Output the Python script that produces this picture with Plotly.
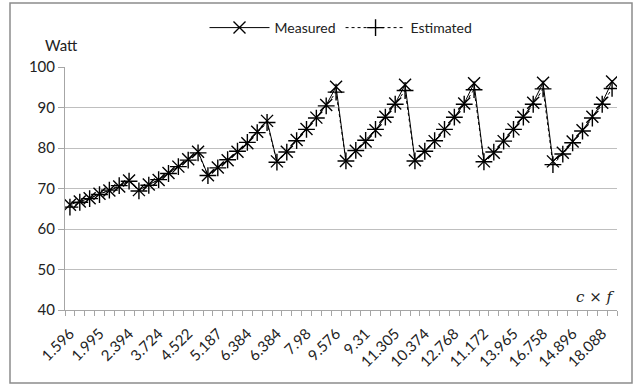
import plotly.graph_objects as go

# category labels (c x f) for each of the 56 measurements
categories = [
    "1.596", "1.729", "1.862", "1.995", "2.128", "2.261", "2.394",
    "3.192", "3.458", "3.724", "3.99", "4.256", "4.522", "4.788",
    "4.788", "5.187", "5.586", "5.985", "6.384", "6.783", "7.182",
    "6.384", "6.916", "7.448", "7.98", "8.512", "9.044", "9.576",
    "7.98", "8.645", "9.31", "9.975", "10.64", "11.305", "11.97",
    "9.576", "10.374", "11.172", "11.97", "12.768", "13.566", "14.364",
    "11.172", "12.103", "13.034", "13.965", "14.896", "15.827", "16.758",
    "12.768", "13.832", "14.896", "15.96", "17.024", "18.088", "19.152",
]

measured = [
    66.0, 66.8, 67.6, 68.7, 69.5, 70.5, 72.0,
    69.6, 71.0, 72.1, 73.8, 75.4, 77.2, 79.1,
    73.3, 75.2, 77.0, 79.1, 81.2, 84.0, 86.7,
    76.7, 79.1, 82.0, 84.7, 87.5, 90.6, 95.1,
    76.8, 79.3, 81.6, 84.4, 87.7, 91.0, 95.6,
    77.0, 79.2, 81.7, 84.6, 87.6, 91.0, 96.0,
    76.7, 78.8, 81.7, 84.6, 87.7, 91.2, 96.1,
    76.7, 78.8, 81.6, 84.4, 87.7, 91.2, 96.4,
]

estimated = [
    65.4, 66.6, 67.5, 68.5, 69.6, 70.7, 71.8,
    69.4, 70.8, 72.2, 73.7, 75.4, 77.0, 78.8,
    73.2, 75.1, 77.1, 79.2, 81.4, 83.8, 86.3,
    76.5, 79.0, 81.8, 84.6, 87.4, 90.4, 93.8,
    76.8, 79.4, 81.9, 84.6, 87.6, 90.8, 94.2,
    76.8, 79.2, 81.8, 84.6, 87.6, 90.8, 94.4,
    76.6, 79.0, 81.7, 84.6, 87.6, 90.8, 94.6,
    75.9, 78.5, 81.3, 84.2, 87.4, 90.8, 94.7,
]

y_ticks = [40, 50, 60, 70, 80, 90, 100]

x_idx = list(range(len(categories)))
label_idx = x_idx[::3]
label_text = [categories[i] for i in label_idx]

FONT = "Lato, Liberation Sans, sans-serif"

# plot area in pixels
L, R, T, B = 65, 617, 67, 310
PW, PH = R - L, B - T

fig = go.Figure()
fig.add_trace(go.Scatter(
    x=x_idx, y=measured, name="Measured", mode="lines+markers",
    line=dict(color="black", width=1),
    marker=dict(symbol="x-thin", size=12, line=dict(color="black", width=1.4)),
))
fig.add_trace(go.Scatter(
    x=x_idx, y=estimated, name="Estimated", mode="lines+markers",
    line=dict(color="black", width=1, dash="dot"),
    marker=dict(symbol="cross-thin", size=12, line=dict(color="black", width=1.4)),
))

fig.update_layout(
    width=634, height=386,
    margin=dict(l=L, r=634 - R, t=T, b=386 - B, autoexpand=False),
    paper_bgcolor="white", plot_bgcolor="white",
    font=dict(family=FONT, size=14, color="#222"),
    showlegend=True,
    legend=dict(orientation="h", x=0.5, xanchor="center", y=(B - 28) / PH,
                yanchor="middle", font=dict(size=14), itemwidth=60,
                bgcolor="rgba(0,0,0,0)"),
    xaxis=dict(
        range=[-0.5, len(categories) - 0.5],
        tickmode="array", tickvals=label_idx, ticktext=label_text,
        tickangle=-45, ticks="", showgrid=False, zeroline=False,
        showline=True, linecolor="#a6a6a6", linewidth=1,
        tickfont=dict(size=15), ticklabelstandoff=8,
        minor=dict(tick0=-0.5, dtick=1, ticks="outside", ticklen=5,
                   tickcolor="#a6a6a6", showgrid=False),
    ),
    yaxis=dict(
        range=[40, 100], tickvals=y_ticks, showgrid=True, gridcolor="#bfbfbf",
        gridwidth=1, zeroline=False, showline=True, linecolor="#a6a6a6",
        ticks="outside", ticklen=6, tickcolor="#a6a6a6", tickfont=dict(size=15),
    ),
    annotations=[
        dict(text="Watt", xref="paper", yref="paper", x=(43 - L) / PW,
             y=(B - 45) / PH, xanchor="left", yanchor="middle", showarrow=False,
             font=dict(size=15)),
        dict(text="<i>c</i> × <i>f</i>", xref="paper", yref="paper", x=1.0,
             y=(B - 297) / PH, xanchor="right", yanchor="middle", showarrow=False,
             font=dict(family="DejaVu Serif, Liberation Serif, serif", size=15)),
    ],
    shapes=[dict(type="rect", xref="paper", yref="paper",
                 x0=(10 - L) / PW, x1=(632 - L) / PW,
                 y0=(B - 383) / PH, y1=(B - 3) / PH,
                 line=dict(color="#8c8c8c", width=1.5))],
)

fig.write_html("out.html", config={"displayModeBar": False},
               post_script=["document.body.style.margin='0';"])
